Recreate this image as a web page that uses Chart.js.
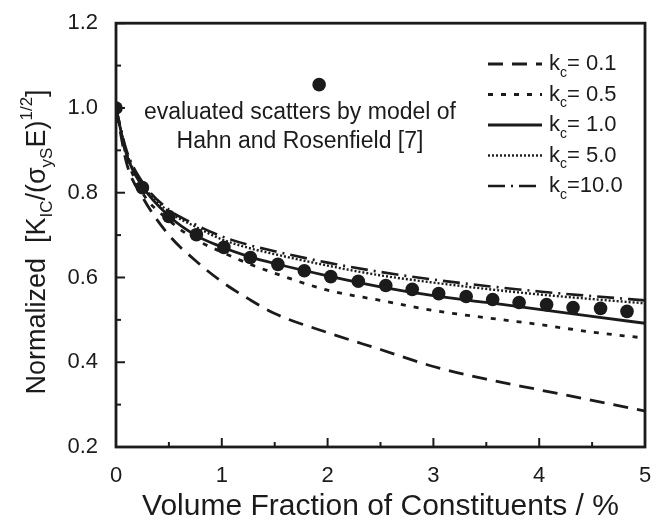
<!DOCTYPE html>
<html>
<head>
<meta charset="utf-8">
<script src="https://cdn.jsdelivr.net/npm/chart.js@4.4.1/dist/chart.umd.min.js"></script>
<style>
html,body{margin:0;padding:0;background:#fff;}
#toughness_chart{display:block;}
</style>
</head>
<body>
<canvas id="toughness_chart" width="669" height="527"></canvas>
<script>
// volume fraction (%) sample points for the model curves
const vol_frac=[0,0.1,0.25,0.5,0.75,1.0,1.25,1.5,2.0,2.5,3.0,3.5,4.0,4.5,5.0];
// normalized toughness for each k_c value
const kc_01=[1.0,0.87,0.79,0.70,0.64,0.59,0.55,0.515,0.47,0.43,0.39,0.36,0.335,0.31,0.285];
const kc_05=[1.0,0.885,0.80,0.735,0.69,0.66,0.633,0.61,0.57,0.546,0.522,0.505,0.489,0.471,0.457];
const kc_1=[1.0,0.89,0.815,0.745,0.70,0.672,0.65,0.633,0.604,0.578,0.557,0.541,0.525,0.508,0.492];
const kc_5=[1.0,0.895,0.82,0.755,0.72,0.69,0.67,0.655,0.628,0.605,0.588,0.573,0.56,0.549,0.539];
const kc_10=[1.0,0.9,0.825,0.76,0.725,0.697,0.677,0.662,0.635,0.613,0.595,0.58,0.567,0.556,0.546];

// Hahn & Rosenfield model scatters
const hr_x=[0,0.25,0.5,0.76,1.02,1.27,1.53,1.78,2.03,2.29,2.55,2.8,3.05,3.31,3.56,3.81,4.07,4.32,4.58,4.83];
const hr_y=[1.0,0.812,0.744,0.701,0.671,0.647,0.631,0.616,0.602,0.591,0.581,0.572,0.562,0.555,0.548,0.541,0.536,0.529,0.527,0.520];
// marker shown next to the note
const note_dot={x:1.92,y:1.055};

const x_ticks=[0,1,2,3,4,5];
const y_ticks=[0.2,0.4,0.6,0.8,1.0,1.2];

const curves=[
    {k:'0.1',data:kc_01,dash:[15,9],width:2.8},
    {k:'0.5',data:kc_05,dash:[5,8],width:2.8},
    {k:'1.0',data:kc_1,dash:[],width:2.8},
    {k:'5.0',data:kc_5,dash:[2,2],width:2.4},
    {k:'10.0',data:kc_10,dash:[17,6,2,6],width:2.6}
];

const ink='#1b1b1b';
const fam='"Liberation Sans", Arial, sans-serif';

function toPoints(xs,ys){
    return xs.map((x,i)=>({x:x,y:ys[i]}));
}

let datasets=[{
    label:'Hahn and Rosenfield',
    data:toPoints(hr_x,hr_y).concat([note_dot]),
    showLine:false,
    pointRadius:6.8,
    pointBackgroundColor:ink,
    pointBorderColor:ink,
    pointBorderWidth:0
}];
curves.forEach(c=>{
    datasets.push({
        label:'kc='+c.k,
        data:toPoints(vol_frac,c.data),
        showLine:true,
        fill:false,
        borderColor:ink,
        borderWidth:c.width,
        borderDash:c.dash,
        pointRadius:0,
        cubicInterpolationMode:'monotone'
    });
});

// frame + inward ticks
const framePlugin={
    id:'frame',
    afterDatasetsDraw(chart){
        const {ctx,chartArea:a,scales:{x,y}}=chart;
        ctx.save();
        ctx.strokeStyle=ink;
        ctx.lineWidth=2.8;
        ctx.setLineDash([]);
        ctx.strokeRect(a.left,a.top,a.right-a.left,a.bottom-a.top);
        ctx.lineWidth=2;
        for(let v=0;v<=5.001;v+=0.5){
            const px=x.getPixelForValue(v);
            const len=(Math.abs(v-Math.round(v))<1e-6)?9:5;
            ctx.beginPath();ctx.moveTo(px,a.bottom);ctx.lineTo(px,a.bottom-len);ctx.stroke();
        }
        for(let v=0.2;v<=1.2001;v+=0.1){
            const py=y.getPixelForValue(v);
            const major=Math.abs(v*5-Math.round(v*5))<1e-6;
            ctx.beginPath();ctx.moveTo(a.left,py);ctx.lineTo(a.left+(major?9:5),py);ctx.stroke();
        }
        ctx.restore();
    }
};

// text with sub/superscripts: parts = [text, shift]
function drawParts(ctx,parts,x,y,big,small){
    parts.forEach(p=>{
        ctx.font=(p[1]===0?big:small)+'px '+fam;
        ctx.fillText(p[0],x,y+p[1]);
        x+=ctx.measureText(p[0]).width;
    });
}
function partsWidth(ctx,parts,big,small){
    let w=0;
    parts.forEach(p=>{
        ctx.font=(p[1]===0?big:small)+'px '+fam;
        w+=ctx.measureText(p[0]).width;
    });
    return w;
}

const textPlugin={
    id:'texts',
    afterDraw(chart){
        const ctx=chart.ctx;
        ctx.save();
        ctx.fillStyle=ink;
        ctx.textBaseline='middle';
        ctx.textAlign='left';

        // y axis title
        const yt=[['Normalized  [K',0],['IC',9],['/(\u03c3',0],['yS',9],['E)',0],['1/2',-11],[']',0]];
        const w=partsWidth(ctx,yt,27,17);
        ctx.save();
        ctx.translate(38,242);
        ctx.rotate(-Math.PI/2);
        drawParts(ctx,yt,-w/2,0,27,17);
        ctx.restore();

        // note
        ctx.textAlign='center';
        ctx.font='23px '+fam;
        ctx.fillText('evaluated scatters by model of',300,113);
        ctx.fillText('Hahn and Rosenfield [7]',300,142);

        // legend
        ctx.textAlign='left';
        curves.forEach((c,i)=>{
            const ry=64+i*30.5;
            ctx.strokeStyle=ink;
            ctx.lineWidth=c.width;
            ctx.setLineDash(c.dash);
            ctx.beginPath();ctx.moveTo(488,ry);ctx.lineTo(542,ry);ctx.stroke();
            const eq=(c.k.length>3?'=':'= ')+c.k;
            drawParts(ctx,[['k',0],['c',9],[eq,0]],549,ry,22,14);
        });
        ctx.restore();
    }
};

new Chart(document.getElementById('toughness_chart').getContext('2d'),{
    type:'scatter',
    data:{datasets:datasets},
    options:{
        responsive:false,
        animation:false,
        layout:{padding:{left:0,top:22,right:24,bottom:0}},
        plugins:{legend:{display:false},tooltip:{enabled:false}},
        scales:{
            x:{
                type:'linear',min:0,max:5,
                afterBuildTicks:s=>{s.ticks=x_ticks.map(v=>({value:v}));},
                afterFit:s=>{s.height=80;},
                grid:{display:false},
                border:{display:false},
                ticks:{color:ink,font:{family:fam,size:22},padding:8,maxRotation:0,
                    callback:v=>String(v)},
                title:{display:true,text:'Volume Fraction of Constituents / %',color:ink,
                    font:{family:fam,size:30},padding:{top:0,bottom:2}}
            },
            y:{
                type:'linear',min:0.2,max:1.2,
                afterBuildTicks:s=>{s.ticks=y_ticks.map(v=>({value:v}));},
                afterFit:s=>{s.width=116;},
                grid:{display:false},
                border:{display:false},
                ticks:{color:ink,font:{family:fam,size:22},padding:10,
                    callback:v=>v.toFixed(1)}
            }
        }
    },
    plugins:[framePlugin,textPlugin]
});
</script>
</body>
</html>
